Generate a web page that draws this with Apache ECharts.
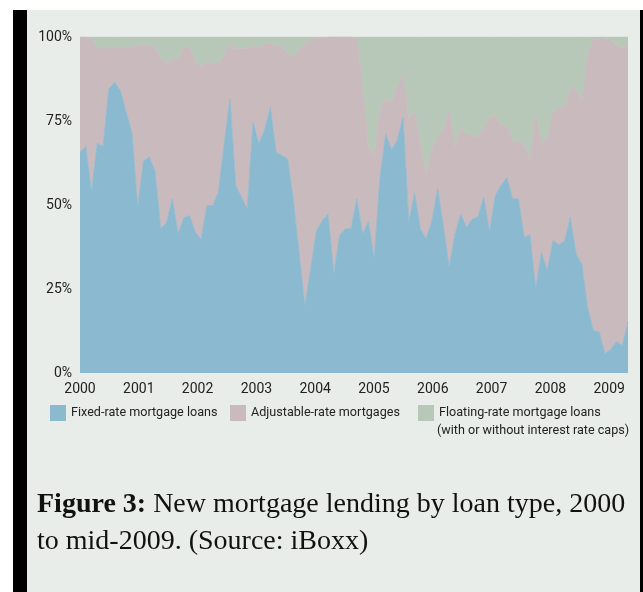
<!DOCTYPE html>
<html>
<head>
<meta charset="utf-8">
<script src="https://cdn.jsdelivr.net/npm/echarts@6/dist/echarts.min.js"></script>
<style>
  body { margin: 0; background: #fff; }
  #frame {
    position: absolute; left: 13px; top: 10px; width: 630px; height: 582px;
    background: #e8ede9; border-left: 14px solid #000; border-right: 3px solid #000;
    box-sizing: border-box;
  }
  #chart { position: absolute; left: 0; top: 0; width: 643px; height: 592px; }
  #caption {
    position: absolute; left: 37px; top: 484px; width: 605px;
    font-family: 'Liberation Serif', 'DejaVu Serif', serif; font-size: 28px;
    line-height: 37px; color: #111; white-space: nowrap;
  }
</style>
</head>
<body>
<div id="frame"></div>
<div id="chart"></div>
<div id="caption"><b>Figure 3:</b> New mortgage lending by loan type, 2000<br>to mid-2009. (Source: iBoxx)</div>
<script>
var fixedRate = [65.7, 67.4, 53.8, 68.4, 67.4, 84.5, 86.5, 84.0, 77.6, 71.6,
  49.3, 63.0, 64.4, 60.0, 42.9, 44.8, 51.8, 41.4, 46.3, 46.8,
  41.9, 39.9, 49.8, 49.8, 53.8, 68.2, 81.5, 55.8, 52.3, 48.8,
  74.6, 68.2, 72.3, 79.1, 65.7, 64.7, 63.7, 51.3, 35.4, 20.0,
  31.4, 42.4, 45.3, 47.3, 29.5, 40.9, 42.9, 43.1, 51.8, 41.4,
  45.1, 33.9, 58.2, 71.1, 66.4, 69.3, 76.1, 44.8, 53.5, 42.9,
  39.9, 45.3, 54.8, 43.8, 31.4, 41.4, 47.3, 43.4, 45.8, 46.5,
  52.3, 41.9, 52.8, 55.8, 58.2, 51.8, 51.8, 40.4, 41.1, 25.0,
  35.9, 30.5, 39.4, 38.2, 39.2, 46.3, 35.4, 32.4, 19.5, 12.6,
  12.3, 5.7, 7.1, 9.4, 8.1, 15.1];
var adjustableRate = [34.3, 32.6, 45.6, 28.0, 29.0, 12.4, 10.6, 12.4, 19.5, 25.1,
  48.6, 34.4, 33.5, 36.9, 51.0, 47.4, 41.4, 52.1, 50.4, 49.9,
  51.1, 51.1, 42.7, 42.2, 38.6, 26.2, 16.4, 40.6, 44.4, 47.6,
  22.8, 28.5, 25.6, 19.0, 31.7, 32.2, 31.7, 42.6, 61.0, 78.1,
  67.7, 57.1, 54.4, 52.7, 70.5, 59.1, 57.1, 56.9, 47.6, 43.6,
  22.1, 30.8, 20.4, 10.4, 14.2, 16.2, 12.9, 30.8, 24.1, 25.3,
  19.3, 21.4, 15.8, 28.3, 47.2, 25.8, 25.8, 27.7, 24.8, 23.6,
  20.3, 34.2, 23.8, 17.8, 15.4, 17.3, 16.9, 27.3, 22.1, 52.6,
  32.8, 39.1, 38.2, 40.4, 39.9, 38.7, 49.1, 48.2, 75.4, 86.7,
  87.1, 93.7, 92.0, 88.0, 88.6, 82.6];
var floatingRate = [0, 0, 0.6, 3.6, 3.6, 3.1, 2.9, 3.6, 2.9, 3.3,
  2.1, 2.6, 2.1, 3.1, 6.1, 7.8, 6.8, 6.5, 3.3, 3.3,
  7.0, 9.0, 7.5, 8.0, 7.6, 5.6, 2.1, 3.6, 3.3, 3.6,
  2.6, 3.3, 2.1, 1.9, 2.6, 3.1, 4.6, 6.1, 3.6, 1.9,
  0.9, 0.5, 0.3, 0, 0, 0, 0, 0, 0.6, 15.0,
  32.8, 35.3, 21.4, 18.5, 19.4, 14.5, 11.0, 24.4, 22.4, 31.8,
  40.8, 33.3, 29.4, 27.9, 21.4, 32.8, 26.9, 28.9, 29.4, 29.9,
  27.4, 23.9, 23.4, 26.4, 26.4, 30.9, 31.3, 32.3, 36.8, 22.4,
  31.3, 30.4, 22.4, 21.4, 20.9, 15.0, 15.5, 19.4, 5.1, 0.7,
  0.6, 0.6, 0.9, 2.6, 3.3, 2.3];

var periods = fixedRate.map(function (v, i) { return String(i + 1) });
var yearStart = 2000;
var yearEnd = 2009.32;
var seriesNames = ['Fixed-rate mortgage loans', 'Adjustable-rate mortgages', 'Floating-rate mortgage loans'];
var seriesColors = ['#8bb9d0', '#c9babe', '#b7c8b9'];
var legendNote = '(with or without interest rate caps)';

var chart = echarts.init(document.getElementById('chart'));
var labelFont = 'Roboto, sans-serif';

function area (idx, values) {
  return {
    name: seriesNames[idx],
    type: 'line',
    stack: 'share',
    xAxisIndex: 0,
    data: values,
    color: seriesColors[idx],
    showSymbol: false,
    lineStyle: { width: 0.8, color: seriesColors[idx] },
    areaStyle: { color: seriesColors[idx], opacity: 1 }
  }
}

function legendAt (idx, left) {
  return {
    data: [seriesNames[idx]],
    left: left,
    top: 405,
    padding: 0,
    icon: 'rect',
    itemWidth: 16,
    itemHeight: 16,
    selectedMode: false,
    textStyle: { fontFamily: labelFont, fontSize: 12.6, color: '#222' }
  }
}

chart.setOption({
  animation: false,
  grid: { left: 80, top: 37, width: 548, height: 336 },
  xAxis: [
    { type: 'category', data: periods, boundaryGap: false, show: false },
    {
      type: 'value', min: yearStart, max: yearEnd, interval: 1, position: 'bottom',
      axisLine: { show: false }, axisTick: { show: false }, splitLine: { show: false },
      axisLabel: {
        showMaxLabel: false, margin: 9, color: '#222', fontFamily: labelFont, fontSize: 14,
        formatter: function (v) { return Number.isInteger(v) ? String(v) : '' }
      }
    }
  ],
  yAxis: {
    type: 'value', min: 0, max: 100, interval: 25,
    axisLine: { show: false }, axisTick: { show: false }, splitLine: { show: false },
    axisLabel: { formatter: '{value}%', margin: 8, color: '#222', fontFamily: labelFont, fontSize: 14 }
  },
  legend: [legendAt(0, 50), legendAt(1, 230), legendAt(2, 418)],
  graphic: [{
    type: 'text', left: 437, top: 424,
    style: { text: legendNote, fontFamily: labelFont, fontSize: 12.6, fill: '#222' }
  }],
  series: [area(0, fixedRate), area(1, adjustableRate), area(2, floatingRate)]
});
</script>
</body>
</html>
